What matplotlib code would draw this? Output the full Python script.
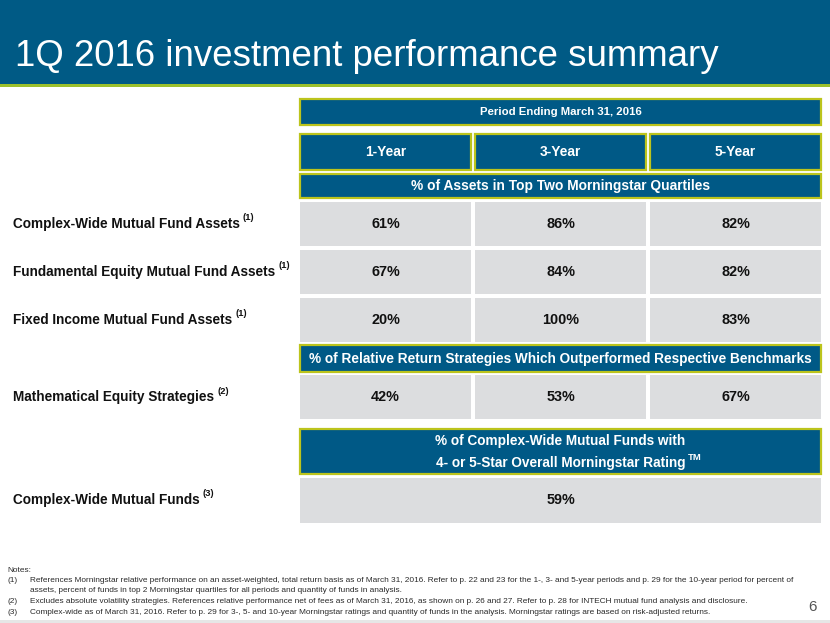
"""1Q 2016 investment performance summary — slide table recreated with matplotlib."""
import matplotlib
matplotlib.use("Agg")
import matplotlib.pyplot as plt
from matplotlib.patches import Rectangle

# ---- data -------------------------------------------------------------
TITLE = "1Q 2016 investment performance summary"
PERIOD = "Period Ending March 31, 2016"
YEARS = ["1-Year", "3-Year", "5-Year"]

SEC_QUARTILE = "% of Assets in Top Two Morningstar Quartiles"
QUARTILE_LABELS = ["Complex-Wide Mutual Fund Assets",
                   "Fundamental Equity Mutual Fund Assets",
                   "Fixed Income Mutual Fund Assets"]
QUARTILE_NOTES = ["(1)", "(1)", "(1)"]
QUARTILE_VALUES = [[61, 86, 82],
                   [67, 84, 82],
                   [20, 100, 83]]

SEC_STRATEGY = "% of Relative Return Strategies Which Outperformed Respective Benchmarks"
STRATEGY_LABEL = "Mathematical Equity Strategies"
STRATEGY_NOTE = "(2)"
STRATEGY_VALUES = [42, 53, 67]

SEC_RATING = ["% of Complex-Wide Mutual Funds with", "4- or 5-Star Overall Morningstar Rating"]
RATING_LABEL = "Complex-Wide Mutual Funds"
RATING_NOTE = "(3)"
RATING_VALUE = 59

NOTES = [
    ("", "Notes:"),
    ("(1)", "References Morningstar relative performance on an asset-weighted, total return basis as of March 31, 2016. "
            "Refer to p. 22 and 23 for the 1-, 3- and 5-year periods and p. 29 for the 10-year period for percent of"),
    ("", "assets, percent of funds in top 2 Morningstar quartiles for all periods and quantity of funds in analysis."),
    ("(2)", "Excludes absolute volatility strategies. References relative performance net of fees as of March 31, 2016, "
            "as shown on p. 26 and 27. Refer to p. 28 for INTECH mutual fund analysis and disclosure."),
    ("(3)", "Complex-wide as of March 31, 2016. Refer to p. 29 for 3-, 5- and 10-year Morningstar ratings and quantity "
            "of funds in the analysis. Morningstar ratings are based on risk-adjusted returns."),
]
PAGE = "6"

# ---- style ------------------------------------------------------------
BAND = "#005a85"
BOX = "#005986"
EDGE = "#bcc41c"
LINE_GREEN = "#9cc02c"
GRAY = "#dcdddf"
INK = "#111111"
NARROW = ["Liberation Sans Narrow", "Liberation Sans", "DejaVu Sans"]
SANS = ["Liberation Sans", "DejaVu Sans"]

W, H = 830, 623
COL_X = [300, 475, 650]
COL_W = 171
FULL_X, FULL_W = 300, 521
CX = FULL_X + FULL_W / 2


def blue_box(ax, x, y0, w, y1):
    ax.add_patch(Rectangle((x, y0), w, y1 - y0, facecolor=BOX, edgecolor=EDGE,
                           linewidth=1.6, zorder=2))


def gray_box(ax, x, y0, w, y1):
    ax.add_patch(Rectangle((x, y0), w, y1 - y0, facecolor=GRAY, edgecolor="none", zorder=2))


def bold(ax, x, y, s, size, color="white", ha="center"):
    return ax.text(x, y, s, ha=ha, va="center", fontsize=size, fontweight="bold",
                   family=NARROW, color=color, zorder=3)


def label_with_note(ax, fig, x, y, text, note, size=9.8):
    t = bold(ax, x, y, text, size, color=INK, ha="left")
    bb = t.get_window_extent(renderer=fig.canvas.get_renderer())
    bold(ax, bb.x1 + 3, y - 6, note, 6.8, color=INK, ha="left")


def main():
    fig = plt.figure(figsize=(W / 100, H / 100), dpi=100)
    ax = fig.add_axes([0, 0, 1, 1])
    ax.set_xlim(0, W)
    ax.set_ylim(H, 0)
    ax.axis("off")

    # title band
    ax.add_patch(Rectangle((0, 0), W, 84, facecolor=BAND, edgecolor="none"))
    ax.add_patch(Rectangle((0, 84), W, 2.5, facecolor=LINE_GREEN, edgecolor="none"))
    ax.text(15, 56, TITLE, ha="left", va="center", fontsize=26.4, family=SANS, color="white")

    # headers
    blue_box(ax, FULL_X, 99, FULL_W, 125)
    bold(ax, CX, 112, PERIOD, 8.2)
    for x, yr in zip(COL_X, YEARS):
        blue_box(ax, x, 134, COL_W, 170)
        bold(ax, x + COL_W / 2, 152, yr, 9.9)

    # section 1: quartiles
    blue_box(ax, FULL_X, 174, FULL_W, 198)
    bold(ax, CX, 186, SEC_QUARTILE, 9.9)
    row_tops = [202, 250, 298]
    row_h = 44
    for top, lab, note, vals in zip(row_tops, QUARTILE_LABELS, QUARTILE_NOTES, QUARTILE_VALUES):
        cy = top + row_h / 2
        label_with_note(ax, fig, 13, cy, lab, note)
        for x, v in zip(COL_X, vals):
            gray_box(ax, x, top, COL_W, top + row_h)
            bold(ax, x + COL_W / 2, cy, f"{v}%", 10.4, color=INK)

    # section 2: strategies
    blue_box(ax, FULL_X, 345, FULL_W, 372)
    bold(ax, CX, 358.5, SEC_STRATEGY, 9.85)
    cy = 397
    label_with_note(ax, fig, 13, cy, STRATEGY_LABEL, STRATEGY_NOTE)
    for x, v in zip(COL_X, STRATEGY_VALUES):
        gray_box(ax, x, 375, COL_W, 419)
        bold(ax, x + COL_W / 2, cy, f"{v}%", 10.4, color=INK)

    # section 3: ratings
    blue_box(ax, FULL_X, 429, FULL_W, 474)
    bold(ax, CX, 441, SEC_RATING[0], 9.8)
    t = bold(ax, CX, 463, SEC_RATING[1], 9.8)
    bb = t.get_window_extent(renderer=fig.canvas.get_renderer())
    bold(ax, bb.x1 + 3, 457, "TM", 6.8, ha="left")
    gray_box(ax, FULL_X, 478, FULL_W, 523)
    label_with_note(ax, fig, 13, 500, RATING_LABEL, RATING_NOTE)
    bold(ax, CX, 500, f"{RATING_VALUE}%", 10.4, color=INK)

    # notes
    note_y = [570, 580.5, 591, 601.5, 612.5]
    for y, (num, txt) in zip(note_y, NOTES):
        if num:
            ax.text(7, y, num, ha="left", va="center", fontsize=5.95, family=NARROW, color="#2a2a2a")
        x0 = 7 if txt == "Notes:" else 30
        ax.text(x0, y, txt, ha="left", va="center", fontsize=5.95, family=NARROW, color="#2a2a2a")
    ax.text(812, 607, PAGE, ha="center", va="center", fontsize=11, family=SANS, color="#555555")
    ax.add_patch(Rectangle((0, 620), W, 3, facecolor="#e6e6e6", edgecolor="none"))

    fig.savefig("out.png", dpi=100)


if __name__ == "__main__":
    main()
